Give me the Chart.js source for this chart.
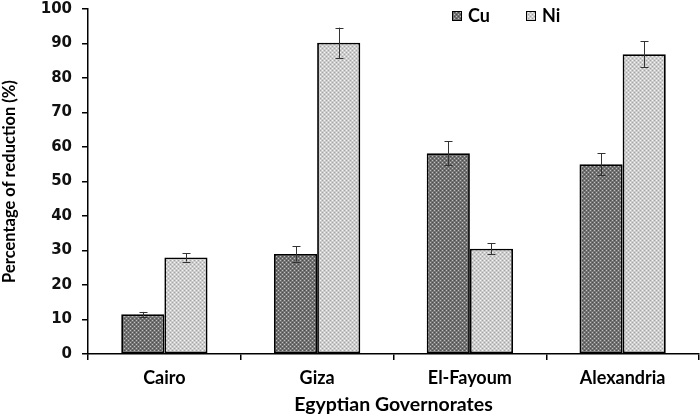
<!DOCTYPE html>
<html lang="en">
<head>
    <meta charset="UTF-8">
    <title>Percentage of reduction by governorate</title>
    <script src="https://cdn.jsdelivr.net/npm/chart.js"></script>
    <style>
        body { margin: 0; background: #fff; }
        #wrap { width: 700px; height: 416px; }
    </style>
</head>
<body>
    <div id="wrap"><canvas id="reductionChart"></canvas></div>
    <script>
        // Data
        const governorates = ['Cairo', 'Giza', 'El-Fayoum', 'Alexandria'];
        const cuValues = [11.5, 29.0, 58.2, 55.0];
        const cuErrors = [0.7, 2.2, 3.4, 3.2];
        const niValues = [28.0, 90.2, 30.5, 86.9];
        const niErrors = [1.2, 4.4, 1.6, 3.7];
        const yTicks = [0, 10, 20, 30, 40, 50, 60, 70, 80, 90, 100];

        // small dotted fill patterns like the original
        function makePattern(base, dot, light) {
            const c = document.createElement('canvas');
            c.width = 4; c.height = 4;
            const g = c.getContext('2d');
            g.fillStyle = base;
            g.fillRect(0, 0, 4, 4);
            g.fillStyle = dot;
            g.fillRect(0, 0, 1, 1);
            g.fillRect(2, 2, 1, 1);
            g.fillStyle = light;
            g.fillRect(2, 0, 1, 1);
            g.fillRect(0, 2, 1, 1);
            return c.getContext('2d').createPattern(c, 'repeat');
        }
        const cuFill = makePattern('#727272', '#c0c0c0', '#4e4e4e');
        const niFill = makePattern('#cdcdcd', '#f4f4f4', '#a4a4a4');

        const errorBars = {
            id: 'errorBars',
            afterDatasetsDraw(chart) {
                const ctx = chart.ctx;
                const y = chart.scales.y;
                ctx.save();
                ctx.strokeStyle = '#333';
                ctx.lineWidth = 1;
                chart.data.datasets.forEach((ds, i) => {
                    const meta = chart.getDatasetMeta(i);
                    meta.data.forEach((bar, j) => {
                        const v = ds.data[j], e = ds.errors[j];
                        const top = y.getPixelForValue(v + e);
                        const bot = y.getPixelForValue(v - e);
                        const x = Math.round(bar.x) + 0.5;
                        ctx.beginPath();
                        ctx.moveTo(x, top); ctx.lineTo(x, bot);
                        ctx.moveTo(x - 4, Math.round(top) + 0.5); ctx.lineTo(x + 4, Math.round(top) + 0.5);
                        ctx.moveTo(x - 4, Math.round(bot) + 0.5); ctx.lineTo(x + 4, Math.round(bot) + 0.5);
                        ctx.stroke();
                    });
                });
                ctx.restore();
            }
        };

        const customLegend = {
            id: 'customLegend',
            afterDraw(chart) {
                const ctx = chart.ctx;
                const items = [
                    { text: 'Cu', fill: cuFill, x: 452 },
                    { text: 'Ni', fill: niFill, x: 526 }
                ];
                ctx.save();
                ctx.font = 'bold 18px Lato, sans-serif';
                ctx.textBaseline = 'middle';
                items.forEach(it => {
                    ctx.fillStyle = it.fill;
                    ctx.fillRect(it.x, 11, 9, 9);
                    ctx.strokeStyle = '#000';
                    ctx.lineWidth = 1;
                    ctx.strokeRect(it.x + 0.5, 11.5, 9, 9);
                    ctx.fillStyle = '#000';
                    ctx.fillText(it.text, it.x + 16, 16);
                });
                ctx.restore();
            }
        };

        const chart = new Chart(document.getElementById('reductionChart'), {
            type: 'bar',
            data: {
                labels: governorates,
                datasets: [
                    {
                        label: 'Cu',
                        data: cuValues,
                        errors: cuErrors,
                        backgroundColor: cuFill,
                        borderColor: '#000',
                        borderWidth: 1.8,
                        borderSkipped: false
                    },
                    {
                        label: 'Ni',
                        data: niValues,
                        errors: niErrors,
                        backgroundColor: niFill,
                        borderColor: '#000',
                        borderWidth: 1.8,
                        borderSkipped: false
                    }
                ]
            },
            options: {
                responsive: true,
                maintainAspectRatio: false,
                animation: false,
                layout: { padding: { top: 9, right: 1, left: 0, bottom: 0 } },
                plugins: {
                    legend: { display: false },
                    tooltip: { enabled: false }
                },
                datasets: {
                    bar: { barPercentage: 1.0, categoryPercentage: 0.565 }
                },
                scales: {
                    x: {
                        grid: {
                            display: true,
                            offset: true,
                            drawOnChartArea: false,
                            color: '#000',
                            tickLength: 6,
                            lineWidth: 1.5
                        },
                        border: { color: '#000', width: 1.5 },
                        ticks: {
                            color: '#000',
                            padding: 7,
                            font: { family: 'Lato', size: 18, weight: 'bold' }
                        },
                        title: {
                            display: true,
                            text: 'Egyptian Governorates',
                            color: '#000',
                            padding: { top: 2, bottom: 0 },
                            font: { family: 'Lato', size: 19.5, weight: 'bold' }
                        },
                        afterFit(scale) {
                            scale.height = 62;
                            scale.paddingLeft = 0;
                            scale.paddingRight = 0;
                        }
                    },
                    y: {
                        min: 0,
                        max: 100,
                        afterBuildTicks(scale) { scale.ticks = yTicks.map(v => ({ value: v })); },
                        grid: {
                            display: true,
                            drawOnChartArea: false,
                            color: '#000',
                            tickLength: 6,
                            lineWidth: 1.5
                        },
                        border: { color: '#000', width: 1.5 },
                        ticks: {
                            color: '#111',
                            padding: 10,
                            font: { family: 'DejaVu Sans', size: 15, weight: 'bold' }
                        },
                        title: {
                            display: true,
                            text: 'Percentage of reduction (%)',
                            color: '#000',
                            padding: { top: 0, bottom: 3 },
                            font: { family: 'Lato', size: 16.5, weight: 'bold' }
                        },
                        afterFit(scale) {
                            scale.width = 88;
                            scale.paddingTop = 0;
                            scale.paddingBottom = 0;
                        }
                    }
                }
            },
            plugins: [errorBars, customLegend]
        });
    </script>
</body>
</html>
